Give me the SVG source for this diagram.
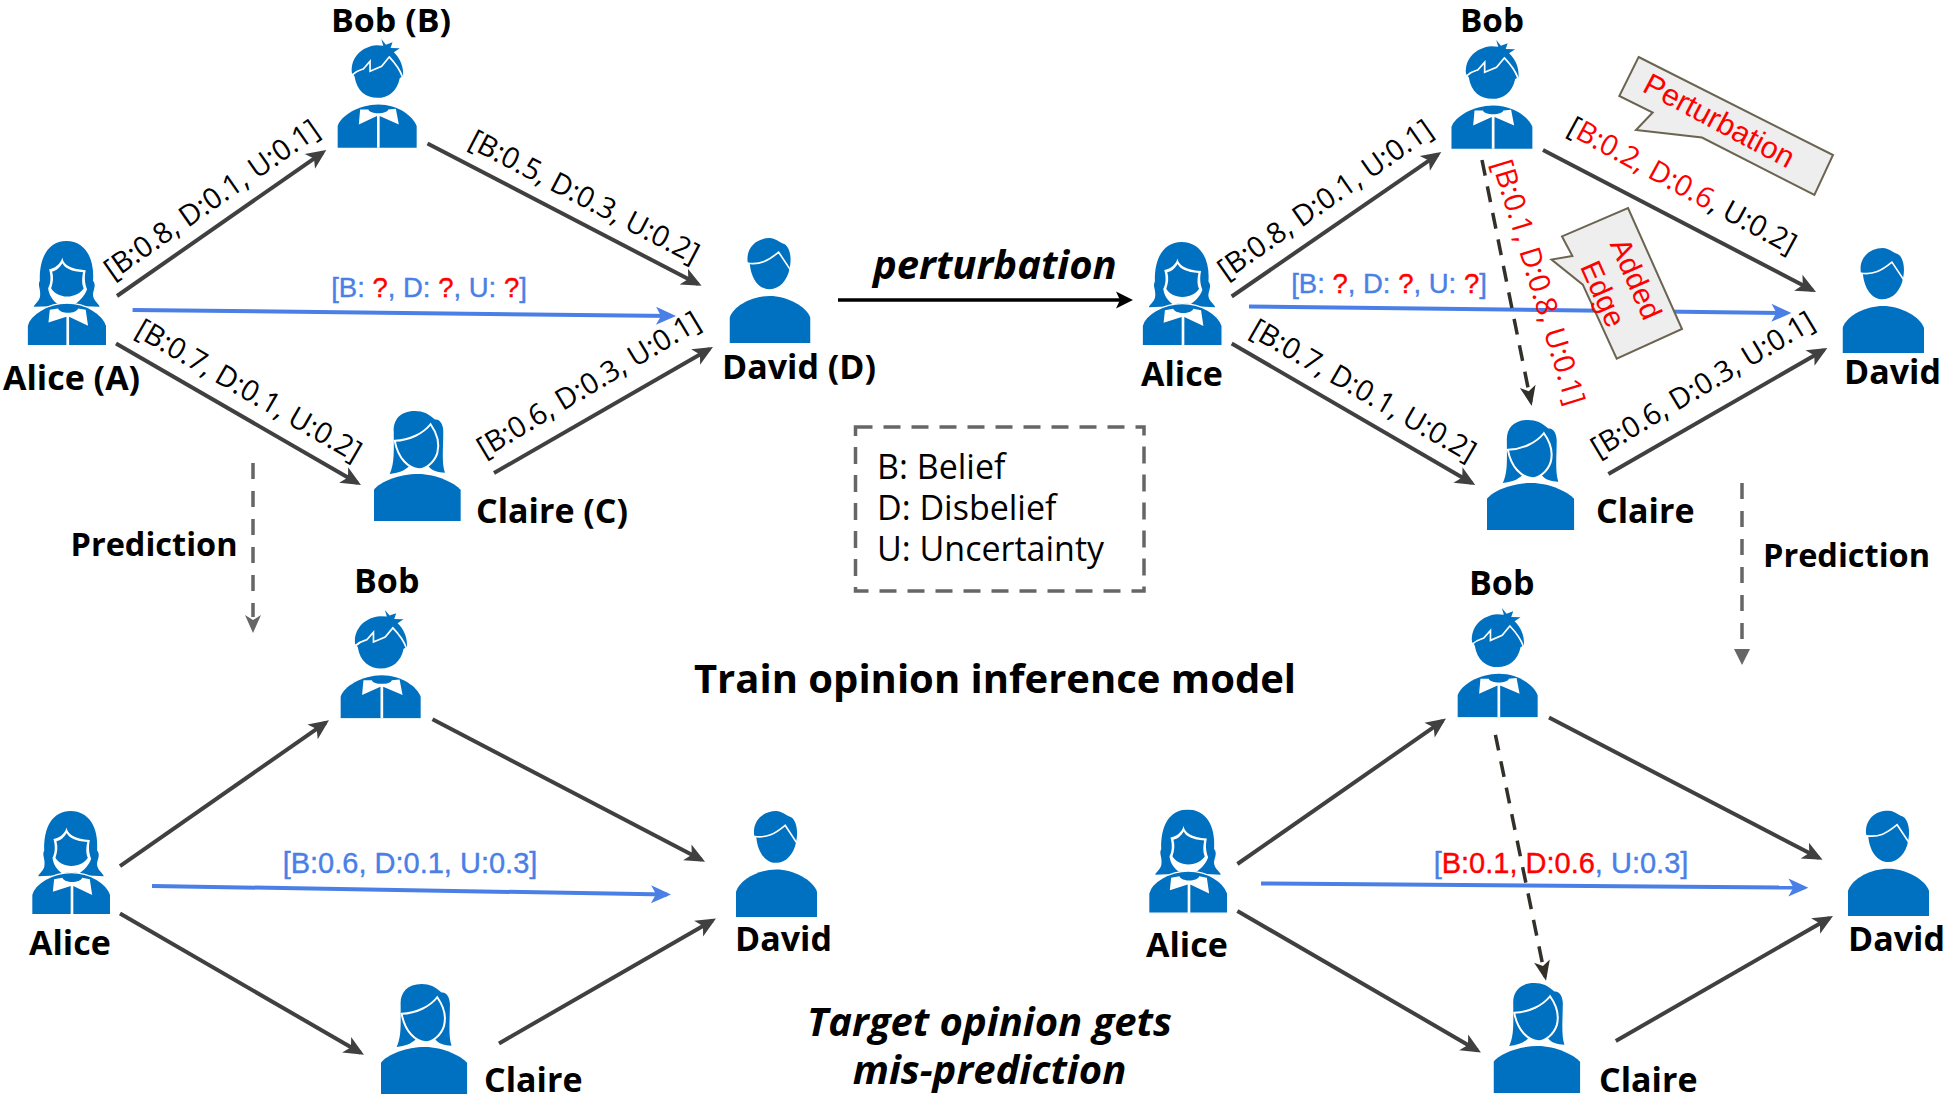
<svg xmlns="http://www.w3.org/2000/svg" width="1948" height="1101" viewBox="0 0 1948 1101">
<style>
text{font-family:"Open Sans","Liberation Sans",sans-serif;fill:#000}
.name{font-size:34px;font-weight:700}
.top{font-size:32.5px}
.pt{font-size:32.5px;font-weight:700}
.lab{font-size:29px;text-anchor:middle}
.blue{font-family:"Liberation Sans",sans-serif;font-size:29px;fill:#4a7fe6;text-anchor:middle;stroke:#4a7fe6;stroke-width:.4}
.q{font-size:27.5px}
.r{fill:#f00;stroke:#f00}
.lab .r,.lab.r{stroke:none}
.k{fill:#000}
.edge{stroke:#404040;stroke-width:4;fill:none;marker-end:url(#ah)}
.bl{stroke:#4a7fe6;stroke-width:4;fill:none;marker-end:url(#ab)}
.added{stroke:#33302a;stroke-width:3.5;fill:none;stroke-dasharray:16 11;marker-end:url(#ad)}
.pred{stroke:#666;stroke-width:3.5;fill:none;stroke-dasharray:16 12}
.call{fill:#eee;stroke:#6b6450;stroke-width:2}
.ct{font-family:"Liberation Sans",sans-serif;font-size:29.5px;fill:#f00;text-anchor:middle}
.i{fill:#0070c0}
.w{fill:#fff}
.ws{fill:none;stroke:#fff;stroke-width:5}
</style>
<defs>
<marker id="ah" markerUnits="userSpaceOnUse" markerWidth="24" markerHeight="20" viewBox="-18 -10 24 20" refX="0" refY="0" orient="auto"><path d="M-16-9L4 0L-16 9L-11 0Z" fill="#404040"/></marker>
<marker id="ab" markerUnits="userSpaceOnUse" markerWidth="24" markerHeight="20" viewBox="-18 -10 24 20" refX="0" refY="0" orient="auto"><path d="M-16-9L4 0L-16 9L-11 0Z" fill="#4a7fe6"/></marker>
<marker id="ad" markerUnits="userSpaceOnUse" markerWidth="24" markerHeight="20" viewBox="-18 -10 24 20" refX="0" refY="0" orient="auto"><path d="M-16-8L4 0L-16 8L-11 0Z" fill="#33302a"/></marker>
<symbol id="bob" viewBox="50 28 242 328" preserveAspectRatio="none">
<path class="i" d="M95 130C90 85 125 50 170 47L190 48L184 28L198 45L218 38L212 55L240 56L222 68C240 85 252 110 250 140L240 145C232 185 205 205 172 205C138 205 110 185 103 140Z"/>
<path class="ws" d="M95 137C110 122 125 120 130 118L150 95L150 125L185 110L208 82C225 100 240 120 248 142"/>
<path class="i" d="M52 355V290C60 260 115 225 175 225C235 225 280 260 291 290V355Z"/>
<path class="w" d="M120 240L145 240C150 255 200 255 205 240L228 238L237 285L179 260V355H171V260L116 285Z"/>
</symbol>
<symbol id="alice" viewBox="50 30 242 316" preserveAspectRatio="none">
<path class="i" d="M170 30C115 30 88 80 90 150C82 165 95 175 90 200C85 215 72 222 72 228L125 226L225 226L270 228C268 220 252 210 250 195C248 180 262 165 250 150C255 80 225 30 170 30Z"/>
<path class="w" d="M158 80C160 100 180 115 228 118C222 145 228 165 232 175C225 195 210 210 195 220L145 220C130 210 118 195 115 172C122 160 125 140 118 115C135 113 152 100 158 80Z"/>
<path class="i" d="M158 97C165 112 185 122 220 124C215 150 218 165 222 172C215 185 195 197 172 197C150 197 130 185 124 172C130 155 132 140 127 122C140 120 150 110 158 97Z"/>
<path class="i" stroke="#fff" stroke-width="4" d="M52 345V285C60 250 115 217 172 217C230 217 280 250 291 285V345Z"/>
<path class="w" d="M120 237L145 233C150 250 200 250 205 233L228 237L235 285L178 258V345H170V258L116 275Z"/>
</symbol>
<symbol id="david" viewBox="57 22 244 319" preserveAspectRatio="none">
<path class="i" d="M112 97C105 50 140 22 178 22C195 22 205 35 222 40C240 50 245 85 238 115C232 150 208 178 178 178C145 178 122 145 118 100Z"/>
<path class="ws" d="M110 98C150 105 175 90 205 65L240 118"/>
<path class="i" d="M57 341V265C70 225 130 198 178 198C230 198 290 230 301 265V341Z"/>
</symbol>
<symbol id="claire" viewBox="43 32 260 332" preserveAspectRatio="none">
<path class="i" d="M165 32C120 32 100 60 102 95C102 150 105 190 90 222C115 220 135 212 148 198L205 198C215 212 235 218 255 218C245 190 250 140 250 100C252 75 240 55 225 58C205 40 190 32 165 32Z"/>
<path class="i" stroke="#fff" stroke-width="6" d="M105 122C150 120 190 100 212 72C232 100 240 130 232 160C222 190 195 208 178 208C145 205 115 175 105 122Z"/>
<path class="i" d="M43 364V270C60 245 120 222 175 222C230 222 285 250 302 270V364Z"/>
</symbol>
</defs>
<rect width="1948" height="1101" fill="#fff"/>

<g id="connectors">
<path class="edge" d="M117 296L323 152.300"/>
<path class="edge" d="M427.500 143.500L698 284"/>
<path class="edge" d="M116 343.500L357.500 483"/>
<path class="edge" d="M494 473L709.500 349"/>
<path class="bl" d="M132.600 310L672 316"/>

<path class="edge" d="M1231.700 296.500L1438 154.300"/>
<path class="edge" d="M1543 150L1812.500 290.200"/>
<path class="edge" d="M1231.700 343.500L1471.800 483"/>
<path class="edge" d="M1608.400 474L1823.900 350"/>
<path class="bl" d="M1249 306.500L1787.400 313"/>
<path class="added" d="M1482 160L1530.900 402"/>

<path class="edge" d="M120 866.200L325.700 722.600"/>
<path class="edge" d="M432.500 719.300L701.500 859.800"/>
<path class="edge" d="M120 913.400L360.500 1052.800"/>
<path class="edge" d="M499 1043.400L712.500 920.600"/>
<path class="bl" d="M152 885.900L667 894.500"/>

<path class="edge" d="M1237.400 864L1442.700 720.900"/>
<path class="edge" d="M1549 717.600L1819 858"/>
<path class="edge" d="M1237.400 911L1477.500 1050.400"/>
<path class="edge" d="M1615.800 1041L1829.500 918"/>
<path class="bl" d="M1261 883.400L1804.400 887.600"/>
<path class="added" d="M1495.400 734.800L1545.200 976.800"/>

<path stroke="#000" stroke-width="3.500" fill="none" d="M838 300H1120"/>
<path fill="#000" d="M1133 300L1116 291.500L1120 300L1116 308.500Z"/>

<path class="pred" d="M253 463V617"/>
<path fill="#666" d="M253 633L245 615L253 620L261 615Z"/>
<path class="pred" d="M1742 483V640"/>
<path fill="#666" d="M1742 665L1734 649H1750Z"/>
</g>

<g id="edge-labels">
<text class="lab" transform="translate(212 200) rotate(-35)" y="9">[B:0.8, D:0.1, U:0.1]</text>
<text class="lab" transform="translate(584 197.500) rotate(27.500)" y="9">[B:0.5, D:0.3, U:0.2]</text>
<text class="lab" transform="translate(248.500 391) rotate(30)" y="9">[B:0.7, D:0.1, U:0.2]</text>
<text class="lab" transform="translate(589 385) rotate(-31)" y="9">[B:0.6, D:0.3, U:0.1]</text>
<text class="blue q" x="429" y="297">[B: <tspan class="r">?</tspan>, D: <tspan class="r">?</tspan>, U: <tspan class="r">?</tspan>]</text>

<text class="lab" transform="translate(1325.500 200) rotate(-35)" y="9">[B:0.8, D:0.1, U:0.1]</text>
<text class="lab" transform="translate(1682 186) rotate(28.500)" y="9"><tspan class="k">[</tspan><tspan class="r">B:0.2, D:0.6</tspan><tspan class="k">, U:0.2]</tspan></text>
<text class="lab" transform="translate(1363 391) rotate(30)" y="9">[B:0.7, D:0.1, U:0.2]</text>
<text class="lab" transform="translate(1703 385) rotate(-31)" y="9">[B:0.6, D:0.3, U:0.1]</text>
<text class="lab r" transform="translate(1538 282.500) rotate(73)" y="9">[B:0.1, D:0.8, U:0.1]</text>
<text class="blue q" x="1389" y="293">[B: <tspan class="r">?</tspan>, D: <tspan class="r">?</tspan>, U: <tspan class="r">?</tspan>]</text>

<text class="blue" x="410" y="873">[B:0.6, D:0.1, U:0.3]</text>
<text class="blue" x="1561" y="873">[<tspan class="r">B:0.1, D:0.6</tspan>, U:0.3]</text>
</g>

<g id="callout-perturbation">
<path class="call" d="M1638.600 57L1833 155L1814.400 195L1702 137.500L1636 130L1652.700 112.500L1619.300 96Z"/>
<text class="ct" transform="translate(1719 121) rotate(28)" y="10" font-size="30.500" style="font-size:30.500px">Perturbation</text>
</g>
<g id="callout-added-edge">
<path class="call" d="M1628 208L1682 329L1616.700 358.600L1582.800 284.600L1551.500 259.600L1572.400 256L1562 236.400Z"/>
<text class="ct" transform="translate(1636 279) rotate(66)" y="10">Added</text>
<text class="ct" transform="translate(1603 294) rotate(66)" y="10">Edge</text>
</g>

<g id="legend">
<rect x="855.500" y="427" width="288.500" height="164" fill="none" stroke="#666" stroke-width="3.500" stroke-dasharray="17 11"/>
<text font-size="34"><tspan x="877" y="479">B: Belief</tspan><tspan x="877" y="520">D: Disbelief</tspan><tspan x="877" y="561">U: Uncertainty</tspan></text>
</g>

<g id="titles">
<text x="873" y="279" font-size="40" font-weight="700" font-style="italic">perturbation</text>
<text x="995" y="693" font-size="40" font-weight="700" text-anchor="middle">Train opinion inference model</text>
<text font-size="40" font-weight="700" font-style="italic" text-anchor="middle"><tspan x="989.500" y="1036">Target opinion gets</tspan><tspan x="989.500" y="1084">mis-prediction</tspan></text>
<text x="70.500" y="556" class="pt">Prediction</text>
<text x="1763" y="567" class="pt">Prediction</text>
</g>

<g id="alice-a"><use href="#alice" x="26.500" y="241" width="80.500" height="105"/><text class="name" x="3" y="390">Alice (A)</text></g>
<g id="bob-b"><use href="#bob" x="337" y="39" width="80" height="109"/><text class="name top" x="331" y="31.500" textLength="120" lengthAdjust="spacingAndGlyphs">Bob (B)</text></g>
<g id="david-d"><use href="#david" x="729.500" y="238" width="81" height="105"/><text class="name" x="722" y="379">David (D)</text></g>
<g id="claire-c"><use href="#claire" x="374" y="411" width="87" height="110"/><text class="name" x="476" y="523">Claire (C)</text></g>

<g id="alice-2"><use href="#alice" x="1141.500" y="242" width="81" height="104"/><text class="name" x="1141" y="386">Alice</text></g>
<g id="bob-2"><use href="#bob" x="1450.800" y="40" width="82" height="109"/><text class="name top" x="1460" y="31.500" textLength="64" lengthAdjust="spacingAndGlyphs">Bob</text></g>
<g id="david-2"><use href="#david" x="1842.500" y="248" width="81.500" height="105"/><text class="name" x="1844" y="384">David</text></g>
<g id="claire-2"><use href="#claire" x="1487" y="420" width="87.500" height="110"/><text class="name" x="1596" y="523">Claire</text></g>

<g id="alice-3"><use href="#alice" x="31" y="811" width="80" height="104"/><text class="name" x="29" y="955">Alice</text></g>
<g id="bob-3"><use href="#bob" x="340" y="610" width="81" height="108.500"/><text class="name" x="354" y="593">Bob</text></g>
<g id="david-3"><use href="#david" x="736" y="811" width="81" height="106"/><text class="name" x="735" y="951">David</text></g>
<g id="claire-3"><use href="#claire" x="381" y="984" width="86.500" height="110"/><text class="name" x="484" y="1092">Claire</text></g>

<g id="alice-4"><use href="#alice" x="1148" y="809.500" width="80" height="104"/><text class="name" x="1146" y="956.500">Alice</text></g>
<g id="bob-4"><use href="#bob" x="1457" y="608" width="81" height="109.500"/><text class="name" x="1469" y="595">Bob</text></g>
<g id="david-4"><use href="#david" x="1848" y="810.500" width="81" height="105.500"/><text class="name" x="1848" y="951">David</text></g>
<g id="claire-4"><use href="#claire" x="1493.500" y="983" width="87" height="110"/><text class="name" x="1599" y="1092">Claire</text></g>
</svg>
